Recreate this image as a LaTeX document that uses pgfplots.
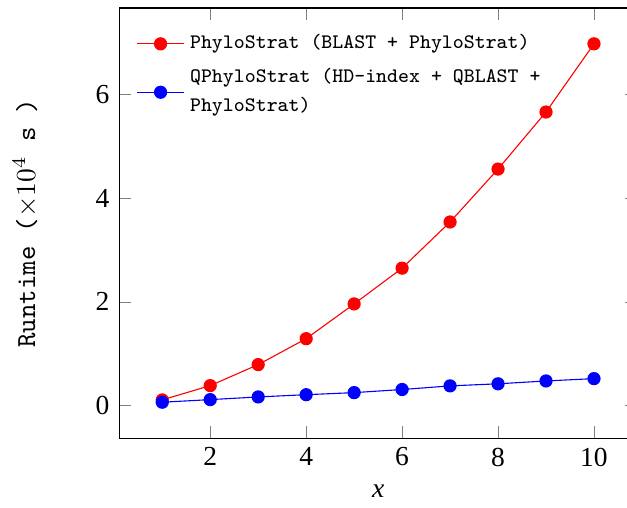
\documentclass[border=0pt]{standalone}
\usepackage{fontspec}
\setmainfont{Liberation Serif}
\usepackage{pgfplots}
\pgfplotsset{compat=1.18}

\begin{document}
\begin{tikzpicture}
\begin{axis}[
  name=ax,
  scale only axis,
  width=188.4pt, height=156.4pt,
  xlabel={\textit{x}},
  ylabel={\texttt{Runtime (}$\times10^{4}$\texttt{ s )}},
  every axis y label/.style={at={(rel axis cs:-0.162,0.5)}, rotate=90, anchor=base},
  /pgf/number format/assume math mode=true,
  legend style={at={(0.03,0.97)}, anchor=north west, xshift=-2.5pt, yshift=-0.8pt,
    draw=none, fill=none, row sep=1.6pt,
    font=\fontsize{7.5}{9.8}\selectfont\ttfamily, cells={align=left}},
  legend cell align=left,
]
\addplot[red, mark=*, mark size=2.2pt] coordinates {
  (1,0.11) (2,0.385) (3,0.79) (4,1.29) (5,1.96) (6,2.65) (7,3.54) (8,4.56) (9,5.66) (10,6.975)};
\addlegendentry{PhyloStrat (BLAST + PhyloStrat)}
\addplot[blue, mark=*, mark size=2.2pt] coordinates {
  (1,0.065) (2,0.115) (3,0.167) (4,0.21) (5,0.25) (6,0.31) (7,0.38) (8,0.42) (9,0.475) (10,0.52)};
\addlegendentry{QPhyloStrat (HD-index + QBLAST +\\[0.8pt]PhyloStrat)}
\end{axis}
\pgfresetboundingbox
\path[use as bounding box] ([shift={(-43.3pt,-25.1pt)}]ax.south west) rectangle ([shift={(184.7pt,159.3pt)}]ax.south west);
\end{tikzpicture}
\end{document}
